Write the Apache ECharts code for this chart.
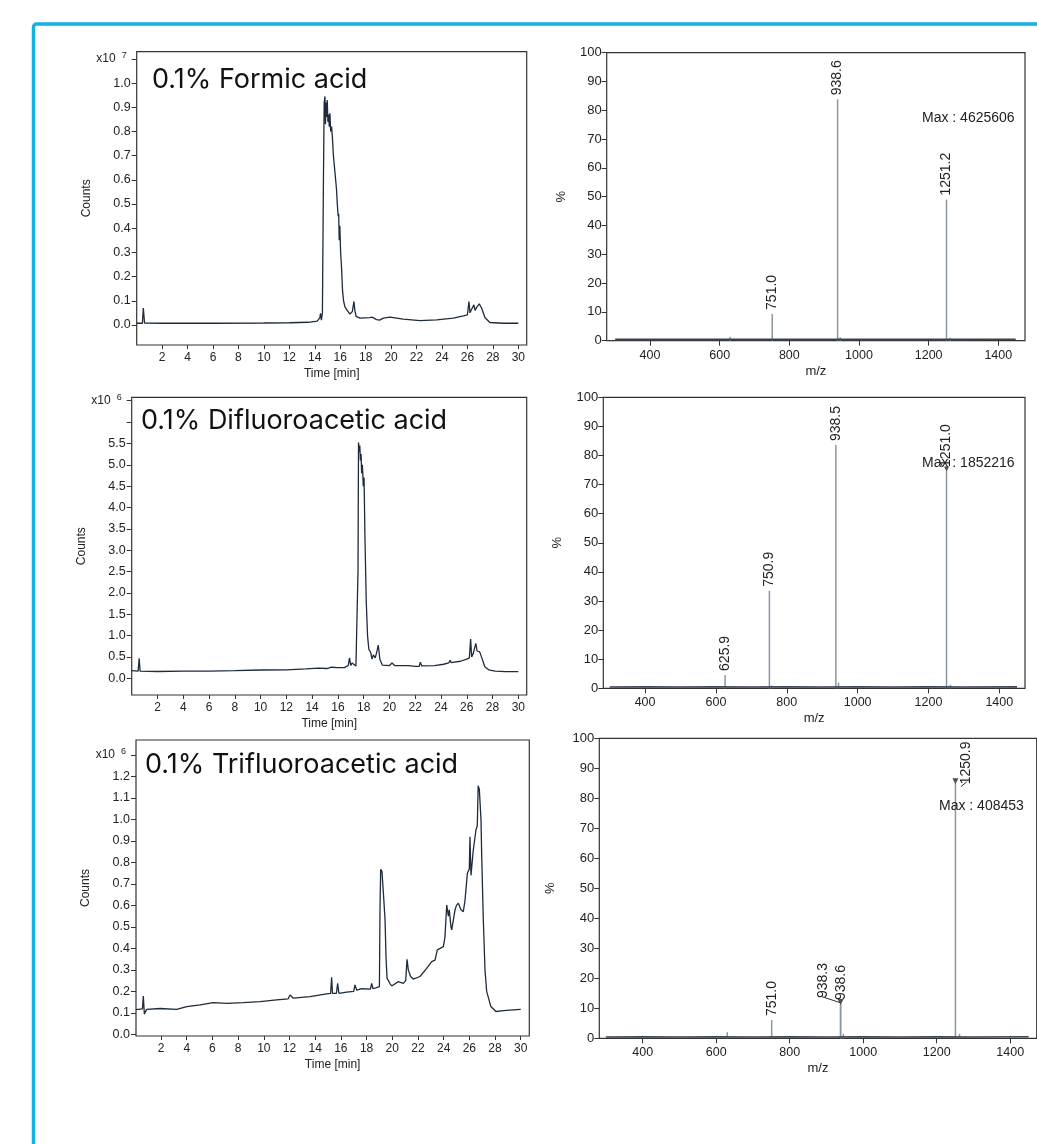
<!DOCTYPE html>
<html>
<head>
<meta charset="utf-8">
<title>LC-MS mobile phase comparison</title>
<script src="https://cdn.jsdelivr.net/npm/echarts@6/dist/echarts.min.js"></script>
<style>
    html, body { margin: 0; padding: 0; background: #fff; }
    #main { width: 1037px; height: 1144px; }
</style>
</head>
<body>
<div id="main"></div>
<script>
    // retention time ticks (min) and m/z ticks
    var timeTicks = [2, 4, 6, 8, 10, 12, 14, 16, 18, 20, 22, 24, 26, 28, 30];
    var mzTicks = [400, 600, 800, 1000, 1200, 1400];

    // TIC traces [time, counts] in axis units
    var faCountTicks = [0, 0.1, 0.2, 0.3, 0.4, 0.5, 0.6, 0.7, 0.8, 0.9, 1.0, 1.1];
    var faTic = [[0, 0.007], [0.45, 0.007], [0.52, 0.07], [0.56, 0.073], [0.62, 0.008], [2, 0.007], [6, 0.007], [10, 0.008], [12, 0.009], [13.5, 0.011], [14.2, 0.016], [14.4, 0.03], [14.45, 0.048], [14.52, 0.02], [14.6, 0.05], [14.68, 0.6], [14.74, 0.92], [14.8, 0.945], [14.84, 0.83], [14.88, 0.92], [14.93, 0.86], [14.98, 0.93], [15.03, 0.84], [15.08, 0.87], [15.14, 0.82], [15.19, 0.875], [15.25, 0.8], [15.32, 0.82], [15.38, 0.78], [15.45, 0.71], [15.5, 0.68], [15.58, 0.68], [15.64, 0.6], [15.71, 0.56], [15.77, 0.5], [15.84, 0.45], [15.88, 0.46], [15.92, 0.35], [15.97, 0.41], [16.03, 0.3], [16.1, 0.24], [16.18, 0.145], [16.26, 0.10], [16.37, 0.075], [16.55, 0.06], [16.76, 0.045], [16.95, 0.055], [17.08, 0.097], [17.15, 0.06], [17.25, 0.035], [17.55, 0.028], [18.33, 0.03], [18.5, 0.032], [18.86, 0.022], [19.1, 0.02], [19.38, 0.028], [19.91, 0.032], [20.96, 0.024], [22.27, 0.018], [23.58, 0.021], [24.89, 0.028], [25.68, 0.037], [26.0, 0.042], [26.07, 0.048], [26.12, 0.097], [26.2, 0.05], [26.3, 0.062], [26.38, 0.058], [26.51, 0.083], [26.6, 0.06], [26.75, 0.075], [26.93, 0.087], [27.12, 0.069], [27.38, 0.03], [27.77, 0.010], [28.82, 0.007], [30, 0.007]];

    var dfaCountTicks = [0, 0.5, 1.0, 1.5, 2.0, 2.5, 3.0, 3.5, 4.0, 4.5, 5.0, 5.5, 6.0, 6.5];
    var dfaTic = [[0, 0.18], [0.5, 0.17], [0.58, 0.47], [0.65, 0.17], [2, 0.16], [4, 0.17], [6, 0.17], [8, 0.18], [10, 0.195], [12, 0.2], [13.5, 0.22], [14.5, 0.24], [15.13, 0.23], [15.5, 0.26], [16, 0.25], [16.5, 0.25], [16.8, 0.3], [16.9, 0.48], [17.0, 0.3], [17.1, 0.36], [17.25, 0.39], [17.4, 0.29], [17.52, 0.3], [17.56, 2.5], [17.6, 5.52], [17.66, 5.3], [17.7, 5.45], [17.75, 5.1], [17.8, 5.25], [17.84, 4.8], [17.9, 5.0], [17.97, 4.5], [18.03, 4.7], [18.1, 3.3], [18.2, 1.8], [18.3, 1.0], [18.4, 0.68], [18.55, 0.6], [18.65, 0.45], [18.75, 0.55], [18.9, 0.48], [19.05, 0.66], [19.13, 0.78], [19.26, 0.44], [19.45, 0.31], [20, 0.3], [20.2, 0.36], [20.4, 0.3], [21, 0.3], [21.5, 0.3], [22, 0.28], [22.3, 0.28], [22.4, 0.38], [22.5, 0.29], [23.5, 0.3], [24.2, 0.33], [24.6, 0.36], [24.7, 0.42], [24.8, 0.37], [25.5, 0.4], [26.0, 0.45], [26.2, 0.48], [26.3, 0.92], [26.38, 0.5], [26.5, 0.58], [26.6, 0.62], [26.7, 0.82], [26.8, 0.64], [27.0, 0.62], [27.2, 0.45], [27.4, 0.27], [27.7, 0.2], [28.2, 0.17], [29, 0.155], [30, 0.155]];

    var tfaCountTicks = [0, 0.1, 0.2, 0.3, 0.4, 0.5, 0.6, 0.7, 0.8, 0.9, 1.0, 1.1, 1.2, 1.3];
    var tfaTic = [[0.05, 0.115], [0.55, 0.118], [0.62, 0.178], [0.7, 0.095], [0.88, 0.116], [1.92, 0.12], [3.22, 0.116], [4.0, 0.129], [5.04, 0.137], [6.07, 0.147], [7.11, 0.144], [8.41, 0.147], [9.71, 0.152], [11.0, 0.16], [11.9, 0.165], [12.04, 0.183], [12.3, 0.168], [13.6, 0.175], [14.9, 0.188], [15.2, 0.19], [15.28, 0.265], [15.35, 0.19], [15.65, 0.19], [15.75, 0.237], [15.85, 0.19], [16.45, 0.196], [17.0, 0.2], [17.1, 0.23], [17.23, 0.205], [17.62, 0.212], [18.3, 0.21], [18.4, 0.237], [18.5, 0.212], [19.0, 0.222], [19.05, 0.6], [19.1, 0.768], [19.2, 0.757], [19.31, 0.657], [19.44, 0.532], [19.52, 0.35], [19.6, 0.26], [19.7, 0.25], [19.83, 0.235], [19.96, 0.225], [20.47, 0.245], [20.86, 0.237], [21.05, 0.25], [21.15, 0.349], [21.25, 0.3], [21.43, 0.269], [21.64, 0.257], [22.16, 0.269], [22.68, 0.307], [23.07, 0.338], [23.33, 0.345], [23.51, 0.393], [23.98, 0.408], [24.1, 0.45], [24.24, 0.602], [24.37, 0.55], [24.44, 0.579], [24.57, 0.50], [24.63, 0.486], [24.89, 0.58], [25.0, 0.6], [25.15, 0.61], [25.35, 0.58], [25.53, 0.571], [25.66, 0.62], [25.85, 0.75], [26.0, 0.77], [26.05, 0.92], [26.13, 0.74], [26.31, 0.858], [26.52, 0.952], [26.62, 0.97], [26.69, 1.157], [26.78, 1.14], [26.91, 0.998], [26.96, 0.843], [27.09, 0.532], [27.22, 0.3], [27.35, 0.2], [27.68, 0.129], [28.07, 0.106], [28.65, 0.11], [29.43, 0.114], [30, 0.116]];

    // mass spectra: labelled peaks, minor peaks, baseline (% of max)
    var faMz = [751.0, 938.6, 1251.2];
    var faPct = [9.3, 83.8, 49.0];
    var faMinor = [[630, 1.4], [946, 1.2], [1262, 1.0]];

    var dfaMz = [625.9, 750.9, 938.5, 1251.0];
    var dfaPct = [4.6, 33.5, 83.6, 74.7];
    var dfaMinor = [[757, 1.0], [946, 2.0], [1262, 1.2]];

    var tfaMz = [751.0, 938.3, 938.6, 1250.9];
    var tfaPct = [6.1, 11.4, 11.4, 85.0];
    var tfaMinor = [[630, 2.0], [946, 1.5], [1262, 1.5]];

    var msBaseline = [[300, 0.45], [400, 0.5], [500, 0.45], [600, 0.5], [700, 0.45], [800, 0.5], [900, 0.45], [1000, 0.5], [1100, 0.45], [1200, 0.5], [1300, 0.45], [1450, 0.5]];

    var maxCounts = ['Max : 4625606', 'Max : 1852216', 'Max : 408453'];
    var titles = ['0.1% Formic acid', '0.1% Difluoroacetic acid', '0.1% Trifluoroacetic acid'];

    var FONT = '"Liberation Sans", Arial, sans-serif';
    var INK = '#1e2b3c';
    var STICK = '#8a96a6';

    function pairs(xs, ys) {
        var out = [];
        for (var i = 0; i < xs.length; i++) {
            out.push([xs[i], ys[i]]);
        }
        return out;
    }

    function countFormatter(expAt, exp, hideAt) {
        return function (v) {
            if (Math.abs(v - expAt) < 1e-6) return '{x|x10}{s|' + exp + '}';
            if (hideAt != null && Math.abs(v - hideAt) < 1e-6) return '';
            return v.toFixed(1);
        };
    }

    function timeAxis(idx, min, max) {
        return {
            type: 'value', gridIndex: idx, min: min, max: max,
            name: 'Time [min]', nameLocation: 'middle', nameGap: 23,
            nameTextStyle: {fontFamily: FONT, fontSize: 12, color: '#222'},
            axisLine: {show: false, onZero: false},
            axisTick: {show: true, length: 4, customValues: timeTicks, lineStyle: {color: '#333'}},
            axisLabel: {customValues: timeTicks, margin: 7, fontFamily: FONT, fontSize: 12, color: '#222'},
            splitLine: {show: false}
        };
    }

    function countAxis(idx, min, max, ticks, fmt, gap) {
        return {
            type: 'value', gridIndex: idx, min: min, max: max,
            name: 'Counts', nameLocation: 'middle', nameGap: gap,
            nameTextStyle: {fontFamily: FONT, fontSize: 12, color: '#222'},
            axisLine: {show: false, onZero: false},
            axisTick: {show: true, length: 5, customValues: ticks, lineStyle: {color: '#333'}},
            axisLabel: {
                customValues: ticks, margin: 6, fontFamily: FONT, fontSize: 12.5, color: '#222',
                formatter: fmt,
                rich: {
                    x: {fontFamily: FONT, fontSize: 12, color: '#222'},
                    s: {fontFamily: FONT, fontSize: 9, color: '#222', padding: [0, 4, 7, 6]}
                }
            },
            splitLine: {show: false}
        };
    }

    function mzAxis(idx, min, max) {
        return {
            type: 'value', gridIndex: idx, min: min, max: max,
            name: 'm/z', nameLocation: 'middle', nameGap: 24,
            nameTextStyle: {fontFamily: FONT, fontSize: 13, color: '#222'},
            axisLine: {show: false, onZero: false},
            axisTick: {show: true, length: 5, customValues: mzTicks, lineStyle: {color: '#333'}},
            axisLabel: {
                customValues: mzTicks, margin: 8, fontFamily: FONT, fontSize: 12.5, color: '#222',
                formatter: function (v) { return String(v); }
            },
            splitLine: {show: false}
        };
    }

    function pctAxis(idx, gap) {
        return {
            type: 'value', gridIndex: idx, min: 0, max: 100, interval: 10,
            name: '%', nameLocation: 'middle', nameGap: gap,
            nameTextStyle: {fontFamily: FONT, fontSize: 13, color: '#222'},
            axisLine: {show: false, onZero: false},
            axisTick: {show: true, length: 5, lineStyle: {color: '#333'}},
            axisLabel: {margin: 5, fontFamily: FONT, fontSize: 13, color: '#222'},
            splitLine: {show: false}
        };
    }

    function ticLine(idx, data) {
        return {
            type: 'line', xAxisIndex: idx, yAxisIndex: idx, data: data,
            showSymbol: false, silent: true,
            lineStyle: {color: INK, width: 1.3}
        };
    }

    function spectrum(idx, mz, pct, labels, minor, layout) {
        return [
            {
                type: 'line', xAxisIndex: idx, yAxisIndex: idx, data: msBaseline,
                showSymbol: false, silent: true, z: 3,
                lineStyle: {color: '#3a4350', width: 1.6}
            },
            {
                type: 'bar', xAxisIndex: idx, yAxisIndex: idx, data: minor,
                barWidth: 1.5, silent: true, itemStyle: {color: STICK}
            },
            {
                type: 'bar', xAxisIndex: idx, yAxisIndex: idx, data: pairs(mz, pct),
                barWidth: 1.5, barGap: '-100%', silent: true,
                itemStyle: {color: STICK},
                label: {
                    show: true, position: 'top', rotate: 90, align: 'left', verticalAlign: 'middle',
                    distance: 4, fontFamily: FONT, fontSize: 14, color: '#222',
                    formatter: function (p) { return labels[p.dataIndex]; }
                },
                labelLayout: layout
            }
        ];
    }

    var myChart = echarts.init(document.getElementById('main'));

    var series = [
        ticLine(0, faTic),
        ticLine(1, dfaTic),
        ticLine(2, tfaTic)
    ];
    series = series.concat(
        spectrum(3, faMz, faPct, faMz.map(function (v) { return v.toFixed(1); }), faMinor),
        spectrum(4, dfaMz, dfaPct, dfaMz.map(function (v) { return v.toFixed(1); }), dfaMinor),
        spectrum(5, tfaMz, tfaPct, tfaMz.map(function (v) { return v.toFixed(1); }), tfaMinor,
            function (p) {
                // label is rotated, so dx runs up the text and dy runs across it
                if (p.dataIndex === 1) return {dx: 2, dy: -17};
                if (p.dataIndex === 3) return {dx: -5, dy: 11};
                return {};
            })
    );
    // peak-top markers and label leaders
    series.push({
        type: 'scatter', xAxisIndex: 4, yAxisIndex: 4, silent: true,
        data: [[dfaMz[3], dfaPct[3]]],
        symbol: 'triangle', symbolRotate: 180, symbolSize: 5, symbolOffset: [0, -2],
        itemStyle: {color: '#222'}
    });
    series.push({
        type: 'scatter', xAxisIndex: 5, yAxisIndex: 5, silent: true,
        data: [[tfaMz[2], tfaPct[2]], [tfaMz[3], tfaPct[3]]],
        symbol: 'triangle', symbolRotate: 180, symbolSize: 6, symbolOffset: [0, -2],
        itemStyle: {color: '#222'}
    });
    series.push({
        type: 'lines', coordinateSystem: 'cartesian2d', xAxisIndex: 5, yAxisIndex: 5, silent: true,
        data: [
            {coords: [[887, 13.9], [937, 11.9]]},
            {coords: [[1265.8, 83.9], [1282, 85.5]]}
        ],
        lineStyle: {color: '#333', width: 1, opacity: 1}
    });

    var titleStyle = {fontFamily: 'Inter, "Noto Sans", sans-serif', fontSize: 27, fontWeight: 'normal', color: '#111', lineHeight: 28};
    var maxStyle = {fontFamily: FONT, fontSize: 14, fontWeight: 'normal', color: '#222', lineHeight: 16};

    myChart.setOption({
        animation: false,
        backgroundColor: '#fff',
        title: [
            {text: titles[0], left: 152, top: 66, padding: 0, textStyle: titleStyle},
            {text: titles[1], left: 141, top: 407, padding: 0, textStyle: titleStyle},
            {text: titles[2], left: 145, top: 751, padding: 0, textStyle: titleStyle},
            {text: maxCounts[0], left: 922, top: 110, padding: 0, textStyle: maxStyle},
            {text: maxCounts[1], left: 922, top: 455, padding: 0, textStyle: maxStyle},
            {text: maxCounts[2], left: 939, top: 798, padding: 0, textStyle: maxStyle}
        ],
        graphic: [{
            type: 'rect', silent: true,
            shape: {x: 33.5, y: 24, width: 1060, height: 1180, r: 3},
            style: {fill: null, stroke: '#12b3e3', lineWidth: 3.5}
        }],
        grid: [
            {left: 136.7, top: 51.7, width: 390, height: 293.3},
            {left: 131.7, top: 397.3, width: 395, height: 297.7},
            {left: 136, top: 740, width: 393.3, height: 296},
            {left: 606.7, top: 52.7, width: 418.3, height: 288},
            {left: 603.3, top: 397.3, width: 421.7, height: 291},
            {left: 599.3, top: 738.3, width: 437.4, height: 300}
        ].map(function (g) {
            g.show = true;
            g.borderColor = '#333';
            g.borderWidth = 1.2;
            g.backgroundColor = 'transparent';
            return g;
        }),
        xAxis: [
            timeAxis(0, 0, 30.66),
            timeAxis(1, 0, 30.65),
            timeAxis(2, 0.05, 30.67),
            mzAxis(3, 275.7, 1476.6),
            mzAxis(4, 282, 1472.5),
            mzAxis(5, 282, 1472)
        ],
        yAxis: [
            countAxis(0, -0.083, 1.13, faCountTicks, countFormatter(1.1, '7'), 42),
            countAxis(1, -0.39, 6.58, dfaCountTicks, countFormatter(6.5, '6', 6.0), 44),
            countAxis(2, -0.008, 1.37, tfaCountTicks, countFormatter(1.3, '6'), 43),
            pctAxis(3, 39),
            pctAxis(4, 39),
            pctAxis(5, 42)
        ],
        series: series
    });
</script>
</body>
</html>
